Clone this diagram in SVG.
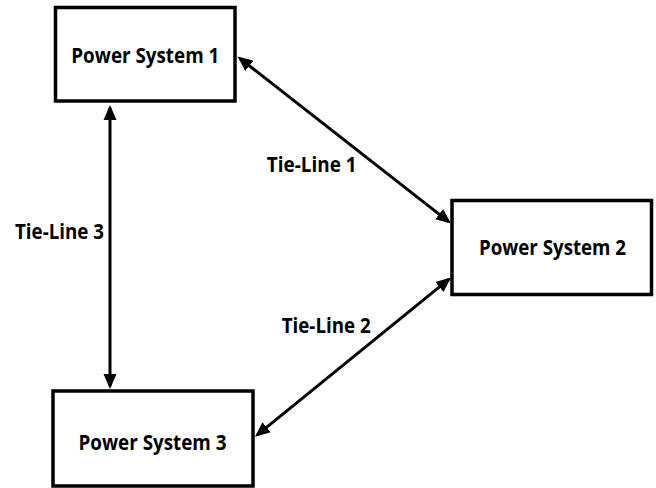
<svg xmlns="http://www.w3.org/2000/svg" width="656" height="488" viewBox="0 0 656 488">
<style>
.box{fill:#fff;stroke:#000;stroke-width:3.5}
.lbl{font-family:"Open Sans","Liberation Sans",sans-serif;font-weight:bold;font-size:21px;fill:#000;text-anchor:middle}
.conn{stroke:#000;stroke-width:3;fill:none;marker-start:url(#ah);marker-end:url(#ah)}
</style>
<defs>
<marker id="ah" markerUnits="userSpaceOnUse" markerWidth="16" markerHeight="14" refX="12" refY="6.5" orient="auto-start-reverse" viewBox="0 0 16 13">
<path d="M0,0 L15,6.5 L0,13 z" fill="#000"/>
</marker>
</defs>
<g id="connectors">
<line class="conn" x1="239.9" y1="58.4" x2="448.6" y2="221.6"/>
<line class="conn" x1="448.7" y1="279.4" x2="257.3" y2="434.8"/>
<line class="conn" x1="110" y1="108" x2="110" y2="386"/>
</g>
<g id="tl1"><text class="lbl" x="311.7" y="171.5" textLength="90" lengthAdjust="spacingAndGlyphs">Tie-Line 1</text></g>
<g id="tl2"><text class="lbl" x="326.2" y="333.3" textLength="89" lengthAdjust="spacingAndGlyphs">Tie-Line 2</text></g>
<g id="tl3"><text class="lbl" x="59.5" y="239" textLength="89" lengthAdjust="spacingAndGlyphs">Tie-Line 3</text></g>
<g id="ps1">
<rect class="box" x="55.5" y="7.5" width="179.5" height="93.5"/>
<text class="lbl" x="145.3" y="63.3" textLength="148" lengthAdjust="spacingAndGlyphs">Power System 1</text>
</g>
<g id="ps2">
<rect class="box" x="452" y="200.5" width="199.5" height="94"/>
<text class="lbl" x="552.5" y="255" textLength="147" lengthAdjust="spacingAndGlyphs">Power System 2</text>
</g>
<g id="ps3">
<rect class="box" x="53" y="391" width="200" height="95"/>
<text class="lbl" x="152.5" y="450" textLength="148" lengthAdjust="spacingAndGlyphs">Power System 3</text>
</g>
</svg>
